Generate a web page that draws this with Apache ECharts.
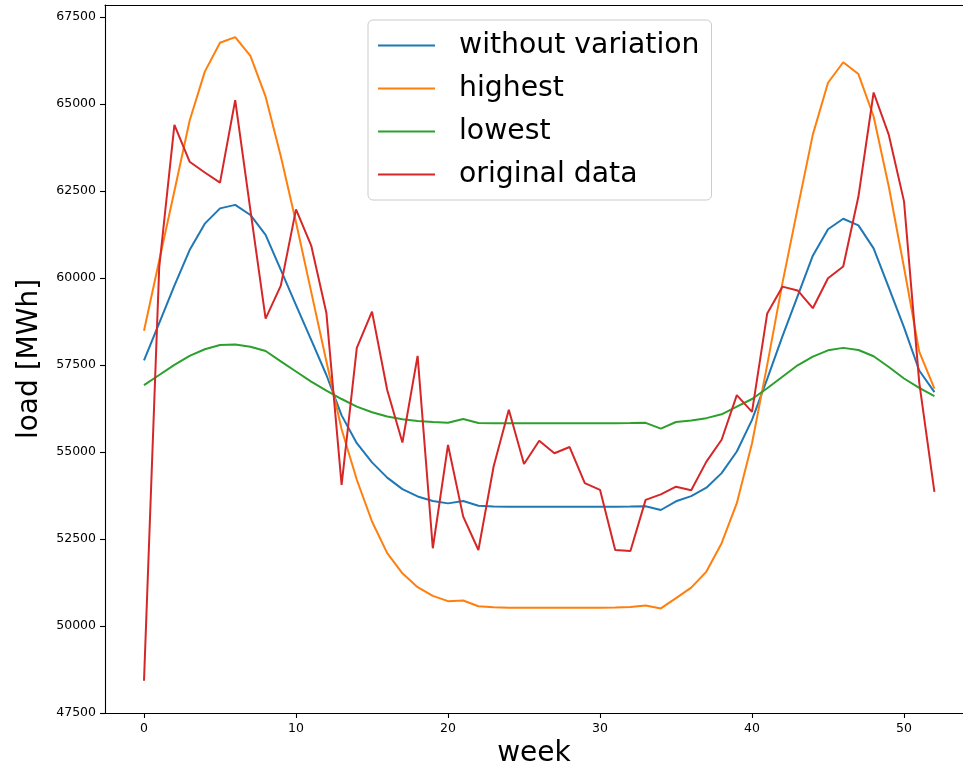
<!DOCTYPE html>
<html>
<head>
<meta charset="utf-8">
<script src="https://cdn.jsdelivr.net/npm/echarts@6/dist/echarts.min.js"></script>
<style>
html,body{margin:0;padding:0;background:#fff}
#chart{width:963px;height:768px}
</style>
</head>
<body>
<div id="chart"></div>
<script>
var weeks=[0,1,2,3,4,5,6,7,8,9,10,11,12,13,14,15,16,17,18,19,20,21,22,23,24,25,26,
    27,28,29,30,31,32,33,34,35,36,37,38,39,40,41,42,43,44,45,46,47,48,49,50,51,52];

var withoutVariation=[57630,58700,59780,60800,61560,62000,62100,61810,61240,60230,59220,58220,57210,56050,
    55250,54700,54260,53930,53720,53590,53520,53590,53450,53430,53425,53425,53425,53425,53425,53425,
    53425,53425,53430,53440,53330,53580,53730,53970,54390,55010,55920,57100,58320,59480,60640,61400,
    61700,61510,60850,59720,58580,57340,56720];

var highest=[58480,60500,62500,64520,65930,66760,66920,66380,65210,63500,61600,59600,57600,55650,
    54200,53000,52090,51510,51110,50860,50710,50730,50565,50535,50520,50520,50520,50520,50520,50520,
    50520,50525,50540,50585,50500,50795,51100,51560,52375,53525,55250,57500,59850,62000,64120,65610,
    66200,65860,64640,62620,60300,57880,56820];

var lowest=[56920,57210,57500,57760,57950,58070,58090,58020,57900,57600,57310,57020,56760,56520,
    56300,56140,56015,55940,55890,55860,55840,55945,55830,55825,55825,55825,55825,55825,55825,55825,
    55825,55825,55828,55835,55670,55860,55900,55970,56080,56300,56520,56830,57160,57490,57740,57920,
    57990,57930,57750,57440,57110,56840,56600];

var originalData=[48420,60300,64400,63340,63030,62740,65110,61950,58830,59780,61970,60930,58990,54050,
    57990,59030,56780,55270,57760,52230,55200,53140,52180,54580,56210,54650,55320,54960,55140,54100,
    53910,52180,52150,53620,53780,54000,53900,54720,55350,56630,56150,58980,59750,59640,59130,59990,
    60330,62340,65330,64110,62200,57000,53850];

var xTicks=[0,10,20,30,40,50];
var yTicks=[47500,50000,52500,55000,57500,60000,62500,65000,67500];

var chart=echarts.init(document.getElementById('chart'));

function pairs(vals){
    return weeks.map(function(w,i){return [w,vals[i]];});
}
function line(name,vals,color){
    return {
        name:name,
        type:'line',
        data:pairs(vals),
        symbol:'none',
        showSymbol:false,
        color:color,
        lineStyle:{width:2,color:color},
        emphasis:{disabled:true}
    };
}
function plain(v){return String(v);}

var font='DejaVu Sans';
var axisStroke={color:'#000',width:1.1};

var option={
    animation:false,
    backgroundColor:'#fff',
    textStyle:{fontFamily:font},
    grid:{
        left:105,
        right:0,
        top:5,
        bottom:55,
        outerBoundsMode:'none',
        containLabel:false
    },
    legend:{
        orient:'vertical',
        left:368,
        top:20,
        padding:[11,12,11,10],
        icon:'rect',
        itemWidth:57,
        itemHeight:2,
        itemGap:14,
        backgroundColor:'rgba(255,255,255,0.8)',
        borderColor:'#cccccc',
        borderWidth:1,
        borderRadius:5,
        textStyle:{
            fontFamily:font,
            fontSize:28.3,
            color:'#000',
            lineHeight:29,
            padding:[0,0,0,19]
        },
        data:['without variation','highest','lowest','original data']
    },
    xAxis:[{
        type:'value',
        min:-2.566,
        max:53.88,
        name:'week',
        nameLocation:'middle',
        nameGap:27,
        nameTextStyle:{fontFamily:font,fontSize:28,color:'#000'},
        axisLine:{show:true,onZero:false,lineStyle:axisStroke},
        axisTick:{show:true,length:5,customValues:xTicks,lineStyle:axisStroke},
        axisLabel:{customValues:xTicks,margin:9,fontSize:12.5,color:'#000',fontFamily:font,formatter:plain},
        splitLine:{show:false}
    },{
        // top spine only
        type:'value',
        position:'top',
        min:-2.566,
        max:53.88,
        axisLine:{show:true,onZero:false,lineStyle:axisStroke},
        axisTick:{show:false},
        axisLabel:{show:false},
        splitLine:{show:false}
    }],
    yAxis:{
        type:'value',
        min:47495,
        max:67845,
        name:'load [MWh]',
        nameLocation:'middle',
        nameRotate:90,
        nameGap:61,
        nameTextStyle:{fontFamily:font,fontSize:28,color:'#000'},
        axisLine:{show:true,onZero:false,lineStyle:axisStroke},
        axisTick:{show:true,length:5,customValues:yTicks,lineStyle:axisStroke},
        axisLabel:{customValues:yTicks,margin:9,fontSize:12.5,color:'#000',fontFamily:font,formatter:plain},
        splitLine:{show:false}
    },
    series:[
        line('without variation',withoutVariation,'#1f77b4'),
        line('highest',highest,'#ff7f0e'),
        line('lowest',lowest,'#2ca02c'),
        line('original data',originalData,'#d62728')
    ]
};

chart.setOption(option);
</script>
</body>
</html>
